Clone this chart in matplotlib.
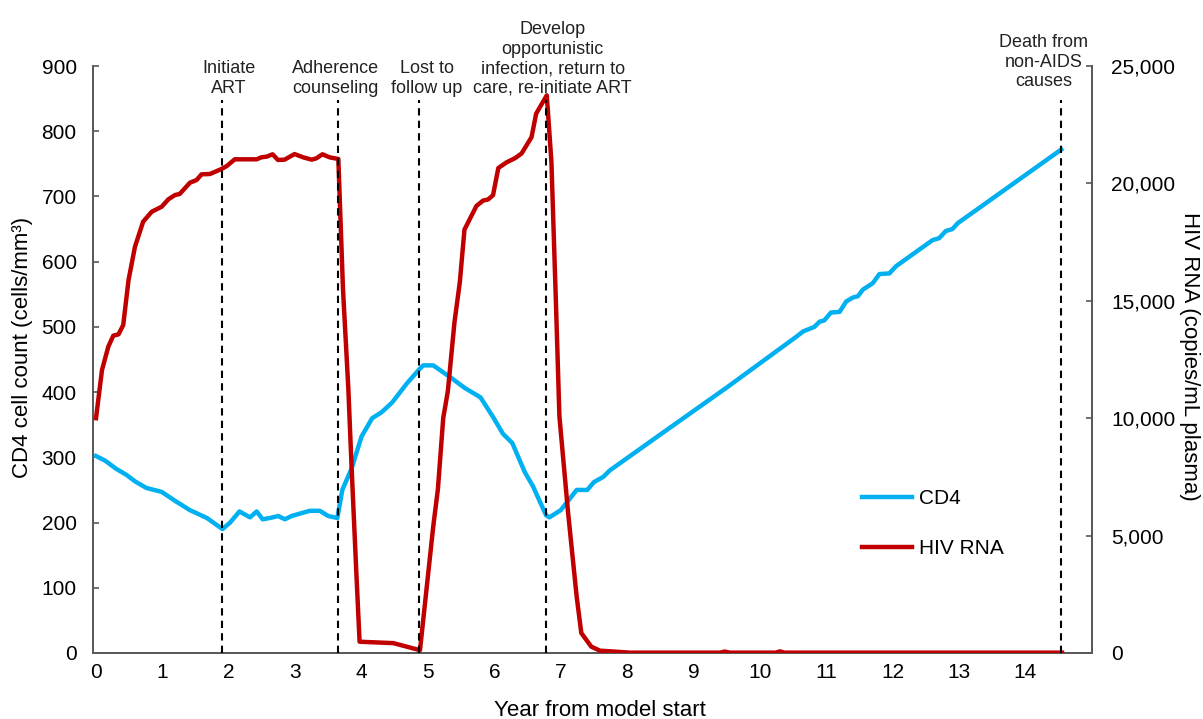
import matplotlib
matplotlib.use("Agg")
import matplotlib.pyplot as plt
from matplotlib.lines import Line2D
from matplotlib.ticker import FuncFormatter

plt.rcParams['font.family'] = ['Liberation Sans', 'DejaVu Sans']

# === DATA ===
cd4_years = [0, 0.135, 0.31, 0.46, 0.59, 0.76, 0.99, 1.21, 1.415, 1.67, 1.905,
             2.02, 2.16, 2.32, 2.42, 2.51, 2.62, 2.745, 2.845, 2.945, 3.045, 3.22,
             3.37, 3.50, 3.635, 3.71, 3.85, 4.0, 4.16, 4.30, 4.46, 4.68, 4.87,
             4.93, 5.08, 5.36, 5.56, 5.79, 5.98, 6.13, 6.27, 6.46, 6.58, 6.78,
             6.83, 7.0, 7.24, 7.40, 7.50, 7.64, 7.74, 8.5, 9.5, 10.55, 10.65,
             10.82, 10.90, 10.97, 11.07, 11.2, 11.30, 11.40, 11.475, 11.55, 11.70,
             11.80, 11.95, 12.05, 12.60, 12.70, 12.80, 12.90, 12.98, 14.54]
cd4_values = [302, 295, 282, 273, 263, 253, 247, 232, 219, 207, 190,
              200, 217, 208, 217, 205, 207, 210, 205, 210, 213, 218,
              218, 210, 207, 250, 283, 332, 360, 369, 384, 413, 435,
              441, 441, 421, 406, 392, 362, 336, 322, 277, 256, 211,
              208, 219, 250, 250, 262, 270, 280, 335, 407, 485, 493,
              500, 508, 510, 522, 523, 539, 545, 547, 557, 567,
              581, 582, 593, 633, 636, 647, 650, 659, 772]

rna_years = [0, 0.09, 0.185, 0.26, 0.34, 0.41, 0.49, 0.587, 0.71, 0.84, 0.99,
             1.09, 1.19, 1.26, 1.415, 1.515, 1.59, 1.716, 1.89, 1.97, 2.09, 2.42,
             2.49, 2.57, 2.66, 2.74, 2.84, 2.99, 3.12, 3.25, 3.32, 3.41, 3.52,
             3.65, 3.72, 3.80, 3.85, 3.92, 3.97, 4.48, 4.88, 5.08, 5.15, 5.23,
             5.30, 5.40, 5.48, 5.55, 5.73, 5.83, 5.905, 5.98, 6.06, 6.18, 6.31,
             6.41, 6.56, 6.63, 6.79, 6.86, 6.93, 6.98, 7.11, 7.24, 7.31, 7.46,
             7.59, 8.04, 9.40, 9.47, 9.55, 10.24, 10.30, 10.37, 14.55]
rna_values = [10000, 12050, 13045, 13514, 13573, 13970, 15886, 17304, 18370, 18795, 19008,
              19322, 19506, 19548, 20030, 20145, 20387, 20400, 20613, 20741, 21026, 21026,
              21111, 21138, 21240, 21000, 21010, 21250, 21110, 21010, 21070, 21240, 21110,
              21040, 15500, 11300, 7900, 3500, 480, 420, 120, 5400, 6985, 10000,
              11158, 14098, 15793, 18033, 19038, 19268, 19315, 19497, 20655, 20890, 21073,
              21273, 21968, 22972, 23750, 20900, 14700, 10080, 6000, 2400, 850, 270,
              100, 15, 15, 60, 15, 15, 70, 15, 15]

event_years = [1.90, 3.64, 4.87, 6.78, 14.53]
event_labels = ["Initiate\nART", "Adherence\ncounseling", "Lost to\nfollow up",
                "Develop\nopportunistic\ninfection, return to\ncare, re-initiate ART",
                "Death from\nnon-AIDS\ncauses"]
label_years = [2.0, 3.61, 4.98, 6.88, 14.27]
label_heights = [859, 859, 859, 859, 869]

cd4_ticks = list(range(0, 901, 100))
rna_ticks = list(range(0, 25001, 5000))
year_ticks = list(range(0, 15))

# === FIGURE ===
fig = plt.figure(figsize=(12.03, 7.19), dpi=100)
ax = fig.add_axes([0.0776, 0.0918, 0.830, 0.8164])
ax2 = ax.twinx()

blue = '#00B0F0'
red = '#C00000'
gray = '#595959'

ax.plot(cd4_years, cd4_values, color=blue, lw=3.2, solid_joinstyle='round', zorder=3)
ax2.plot(rna_years, rna_values, color=red, lw=3.2, solid_joinstyle='round', zorder=3)

for ev in event_years:
    ax2.axvline(ev, ymin=0, ymax=848 / 900, color='black', lw=1.5,
                dashes=(3.5, 2.5), zorder=4)

for lx, ly, txt in zip(label_years, label_heights, event_labels):
    ax.text(lx, ly, txt, ha='center', va='baseline', fontsize=13,
            linespacing=1.2, clip_on=False, color='#222222')

# === AXES ===
ax.set_xlim(-0.04, 15.0)
ax.set_ylim(0, 900)
ax2.set_ylim(0, 25000)
ax.set_xticks(year_ticks)
ax.set_yticks(cd4_ticks)
ax2.set_yticks(rna_ticks)
ax2.yaxis.set_major_formatter(FuncFormatter(lambda v, p: f'{int(v):,}'))

for a in (ax, ax2):
    a.spines['top'].set_visible(False)
    for side in ('left', 'right', 'bottom'):
        a.spines[side].set_color(gray)
        a.spines[side].set_linewidth(1.3)

ax.tick_params(axis='y', direction='in', length=4.5, width=1.2, color=gray,
               labelsize=15, pad=12)
ax2.tick_params(axis='y', direction='in', length=4.5, width=1.2, color=gray,
                labelsize=15, pad=14)
ax.tick_params(axis='x', length=0, labelsize=15, pad=7)

ax.set_ylabel("CD4 cell count (cells/mm³)", fontsize=16)
ax.yaxis.set_label_coords(-0.06, 0.52)
ax2.set_ylabel("HIV RNA (copies/mL plasma)", fontsize=16, rotation=270, va='center')
ax2.yaxis.set_label_coords(1.098, 0.505)
ax.set_xlabel("Year from model start", fontsize=16)
ax.xaxis.set_label_coords(0.507, -0.08)

# === LEGEND ===
handles = [Line2D([], [], color=blue, lw=3.2), Line2D([], [], color=red, lw=3.2)]
ax2.legend(handles, ["CD4", "HIV RNA"], loc='upper left', frameon=False,
           fontsize=15, handlelength=2.4, handletextpad=0.35, labelspacing=1.5,
           borderpad=0, borderaxespad=0,
           bbox_to_anchor=(862 / 1203, 1 - 489 / 719), bbox_transform=fig.transFigure)

fig.savefig("out.png", dpi=100)
